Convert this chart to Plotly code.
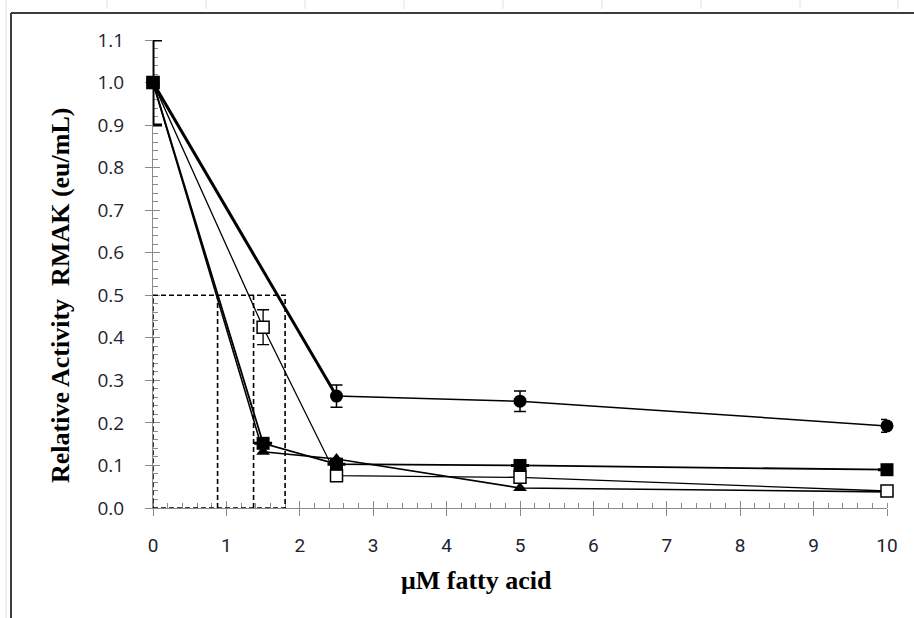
import plotly.graph_objects as go

# Concentrations (uM fatty acid) and relative RMAK activity per series
x_circle = [0, 2.5, 5, 10]
y_circle = [1.0, 0.263, 0.251, 0.193]
e_circle = [0.0, 0.026, 0.024, 0.015]

x_fsq = [0, 1.5, 2.5, 5, 10]
y_fsq = [1.0, 0.152, 0.103, 0.100, 0.090]
e_fsq = [0.10, 0.0, 0.0, 0.0, 0.0]

x_osq = [0, 1.5, 2.5, 5, 10]
y_osq = [1.0, 0.425, 0.076, 0.072, 0.040]
e_osq = [0.0, 0.041, 0.0, 0.0, 0.0]

x_tri = [0, 1.5, 2.5, 5, 10]
y_tri = [1.0, 0.132, 0.115, 0.047, 0.038]

# IC50 guide: half-activity level and the concentrations where it is reached
ic50_level = 0.5
ic50_x = [0.88, 1.37, 1.80]

x_ticks = list(range(0, 11))
y_ticks = [round(i * 0.1, 1) for i in range(0, 12)]

# plot area in pixels (used for frame decorations)
W, H = 914, 618
L, R, T, B = 153, 27, 40, 110
PW, PH = W - L - R, H - T - B


def px(x):
    return (x - L) / PW


def py(y):
    return (H - B - y) / PH


BLACK = "#000000"
AXIS = "#8a8a8a"

fig = go.Figure()

# triangles
fig.add_trace(go.Scatter(
    x=x_tri, y=y_tri, mode="lines+markers", cliponaxis=False,
    line=dict(color=BLACK, width=1.6),
    marker=dict(symbol="triangle-up", size=12, color=BLACK),
    showlegend=False))

# open squares
fig.add_trace(go.Scatter(
    x=x_osq, y=y_osq, mode="lines+markers", cliponaxis=False,
    line=dict(color=BLACK, width=1.3),
    marker=dict(symbol="square", size=12, color="white",
                line=dict(color=BLACK, width=1.5)),
    error_y=dict(type="data", array=e_osq, color=BLACK, thickness=1.3, width=6),
    showlegend=False))

# circles (first segment drawn heavier)
fig.add_trace(go.Scatter(
    x=x_circle[:2], y=y_circle[:2], mode="lines", cliponaxis=False,
    line=dict(color=BLACK, width=3), showlegend=False, hoverinfo="skip"))
fig.add_trace(go.Scatter(
    x=x_circle, y=y_circle, mode="lines+markers", cliponaxis=False,
    line=dict(color=BLACK, width=1.5),
    marker=dict(symbol="circle", size=13, color=BLACK),
    error_y=dict(type="data", array=e_circle, color=BLACK, thickness=1.5, width=6),
    showlegend=False))

# filled squares
fig.add_trace(go.Scatter(
    x=x_fsq, y=y_fsq, mode="lines+markers", cliponaxis=False,
    line=dict(color=BLACK, width=1.8),
    marker=dict(symbol="square", size=13, color=BLACK),
    error_y=dict(type="data", array=e_fsq, color=BLACK, thickness=3, width=9),
    showlegend=False))

dash = dict(color=BLACK, width=1.6, dash="5px,3px")
shapes = [
    # IC50 boxes
    dict(type="rect", xref="x", yref="y", x0=0, x1=ic50_x[2], y0=0, y1=ic50_level,
         line=dash, layer="above"),
    dict(type="line", xref="x", yref="y", x0=ic50_x[0], x1=ic50_x[0], y0=0, y1=ic50_level,
         line=dash, layer="above"),
    dict(type="line", xref="x", yref="y", x0=ic50_x[1], x1=ic50_x[1], y0=0, y1=ic50_level,
         line=dash, layer="above"),
    # chart frame
    dict(type="line", xref="paper", yref="paper", x0=px(11), x1=px(914), y0=py(13), y1=py(13),
         line=dict(color="#3c3c3c", width=2)),
    dict(type="line", xref="paper", yref="paper", x0=px(11), x1=px(11), y0=py(13), y1=py(618),
         line=dict(color="#3c3c3c", width=2)),
    dict(type="line", xref="paper", yref="paper", x0=px(6), x1=px(6), y0=py(0), y1=py(618),
         line=dict(color="#dde2ea", width=1)),
]
for gx in [107, 206, 305, 404, 503, 602, 701, 800, 898]:
    shapes.append(dict(type="line", xref="paper", yref="paper", x0=px(gx), x1=px(gx),
                       y0=py(0), y1=py(9), line=dict(color="#dde2ea", width=1)))

ytick_font = dict(family="Open Sans, Arial, sans-serif", size=19, color="#1e2330")
xtick_font = dict(family="Roboto, Arial, sans-serif", size=19, color="#1e2330")
title_font = dict(family="Liberation Serif, Times New Roman, serif", size=26, color=BLACK)

fig.update_layout(
    width=W, height=H,
    margin=dict(l=L, r=R, t=T, b=B),
    paper_bgcolor="white", plot_bgcolor="white",
    shapes=shapes,
    xaxis=dict(
        range=[0, 10], tickvals=x_ticks, ticktext=[str(v) for v in x_ticks],
        showgrid=False, zeroline=False, showline=True, linecolor=AXIS, linewidth=1,
        ticks="outside", ticklen=7, tickcolor=AXIS, tickwidth=1, layer="below traces",
        ticklabelstandoff=13, tickfont=xtick_font,
        minor=dict(dtick=0.2, ticks="inside", ticklen=5, tickcolor=AXIS, tickwidth=1),
    ),
    xaxis2=dict(
        range=[0, 10], overlaying="x", matches="x", side="bottom", anchor="y",
        tickvals=x_ticks, showticklabels=False, showgrid=False, zeroline=False,
        showline=False, ticks="inside", ticklen=7, tickcolor=AXIS, tickwidth=1,
        layer="below traces",
    ),
    yaxis=dict(
        range=[0, 1.1], tickvals=y_ticks, ticktext=[f"{v:.1f}" for v in y_ticks],
        showgrid=False, zeroline=False, showline=True, linecolor=AXIS, linewidth=1,
        ticks="outside", ticklen=7, tickcolor=AXIS, tickwidth=1, layer="below traces",
        ticklabelstandoff=17, tickfont=ytick_font,
        minor=dict(dtick=0.02, ticks="inside", ticklen=5, tickcolor=AXIS, tickwidth=1),
    ),
    yaxis2=dict(
        range=[0, 1.1], overlaying="y", matches="y", side="left", anchor="x",
        tickvals=y_ticks, showticklabels=False, showgrid=False, zeroline=False,
        showline=False, ticks="inside", ticklen=7, tickcolor=AXIS, tickwidth=1,
        layer="below traces",
    ),
    annotations=[
        dict(text="<b>μM fatty acid</b>", xref="paper", yref="paper",
             x=px(476), y=py(580), xanchor="center", yanchor="middle",
             showarrow=False, font=title_font),
        dict(text="<b>Relative Activity  RMAK (eu/mL)</b>", xref="paper", yref="paper",
             x=px(60), y=py(296), xanchor="center", yanchor="middle", textangle=-90,
             showarrow=False, font=title_font),
    ],
)

# empty traces so the tick-only overlay axes are drawn
fig.add_trace(go.Scatter(x=[None], y=[None], xaxis="x2", yaxis="y2",
                         showlegend=False, hoverinfo="skip"))

fig.write_html("out.html")
